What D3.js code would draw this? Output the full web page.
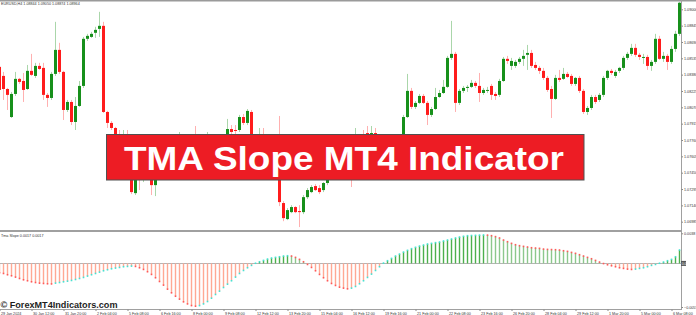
<!DOCTYPE html>
<html>
<head>
<meta charset="utf-8">
<script src="https://cdn.jsdelivr.net/npm/d3@7"></script>
<style>
body {margin:0; background:#fff;}
svg {display:block; font-family:"Liberation Sans", Arial, sans-serif;}
</style>
</head>
<body>
<svg id="chart" width="696" height="315"></svg>
<script>
// EURUSD H4 candles: [open, high, low, close]
var ohlc = [
[1.08454,1.08501,1.08226,1.08235],[1.08368,1.08406,1.08140,1.08244],[1.08244,1.08254,1.08045,1.08188],[1.07978,1.08216,1.07969,1.08197],
[1.08197,1.08406,1.08178,1.08340],[1.08340,1.08349,1.08292,1.08311],[1.08320,1.08396,1.08121,1.08235],[1.08244,1.08472,1.08235,1.08416],
[1.08416,1.08577,1.08368,1.08378],[1.08368,1.08492,1.08349,1.08463],[1.08463,1.08492,1.08425,1.08434],[1.08444,1.08492,1.08140,1.08188],
[1.08188,1.08206,1.08074,1.08159],[1.08159,1.08406,1.08140,1.08387],[1.08387,1.08881,1.08368,1.08615],[1.08615,1.08682,1.08387,1.08406],
[1.08406,1.08416,1.07950,1.08045],[1.08045,1.08140,1.08026,1.08121],[1.08121,1.08140,1.07902,1.07931],[1.07931,1.08168,1.07855,1.08083],
[1.08083,1.08320,1.08074,1.08273],[1.08273,1.08738,1.08254,1.08720],[1.08720,1.08767,1.08700,1.08748],[1.08738,1.08786,1.08729,1.08767],
[1.08777,1.08834,1.08729,1.08805],[1.08814,1.08976,1.08738,1.08843],[1.08843,1.08881,1.08016,1.08026],[1.08026,1.08036,1.07874,1.07922],
[1.07922,1.07940,1.07855,1.07874],[1.07874,1.07884,1.07798,1.07817],[1.07817,1.07855,1.07665,1.07703],[1.07703,1.07855,1.07665,1.07779],
[1.07779,1.07855,1.07570,1.07608],[1.07608,1.07665,1.07247,1.07266],[1.07256,1.07522,1.07238,1.07475],[1.07475,1.07570,1.07285,1.07399],
[1.07399,1.07570,1.07361,1.07522],[1.07522,1.07589,1.07418,1.07456],[1.07456,1.07494,1.07238,1.07332],[1.07332,1.07570,1.07228,1.07551],
[1.07551,1.07665,1.07513,1.07618],[1.07618,1.07665,1.07494,1.07542],[1.07542,1.07712,1.07513,1.07665],[1.07665,1.07760,1.07627,1.07712],
[1.07712,1.07760,1.07608,1.07646],[1.07646,1.07836,1.07627,1.07760],[1.07760,1.07798,1.07665,1.07703],[1.07703,1.07779,1.07674,1.07750],
[1.07750,1.07817,1.07712,1.07808],[1.07798,1.07893,1.07684,1.07741],[1.07741,1.07779,1.07608,1.07665],[1.07665,1.07760,1.07636,1.07722],
[1.07722,1.07836,1.07684,1.07779],[1.07779,1.07798,1.07646,1.07684],[1.07684,1.07760,1.07656,1.07732],[1.07732,1.07770,1.07589,1.07646],
[1.07646,1.07779,1.07618,1.07750],[1.07750,1.07960,1.07732,1.07864],[1.07864,1.07902,1.07817,1.07836],[1.07855,1.07902,1.07808,1.07846],
[1.07855,1.07998,1.07836,1.07978],[1.07978,1.08007,1.07902,1.07922],[1.07922,1.08054,1.07902,1.08036],[1.08026,1.08045,1.07712,1.07760],
[1.07760,1.07798,1.07589,1.07646],[1.07646,1.07874,1.07627,1.07779],[1.07779,1.07874,1.07665,1.07703],[1.07703,1.07798,1.07665,1.07760],
[1.07760,1.07817,1.07570,1.07618],[1.07618,1.07760,1.07589,1.07712],[1.07712,1.07988,1.07133,1.07171],[1.07162,1.07180,1.06990,1.07019],
[1.07010,1.07114,1.07000,1.07095],[1.07076,1.07142,1.07066,1.07124],[1.07124,1.07133,1.07066,1.07076],[1.07086,1.07142,1.06934,1.07076],
[1.07076,1.07238,1.07057,1.07218],[1.07218,1.07304,1.07200,1.07285],[1.07266,1.07332,1.07256,1.07314],[1.07323,1.07342,1.07276,1.07285],
[1.07304,1.07332,1.07247,1.07266],[1.07285,1.07361,1.07266,1.07352],[1.07352,1.07456,1.07332,1.07418],[1.07418,1.07522,1.07399,1.07494],
[1.07494,1.07551,1.07418,1.07456],[1.07456,1.07589,1.07437,1.07570],[1.07570,1.07665,1.07542,1.07646],[1.07646,1.07684,1.07522,1.07570],
[1.07570,1.07665,1.07314,1.07475],[1.07475,1.07874,1.07456,1.07712],[1.07712,1.07817,1.07665,1.07779],[1.07779,1.07855,1.07665,1.07703],
[1.07826,1.07893,1.07665,1.07712],[1.07684,1.07893,1.07665,1.07826],[1.07826,1.07874,1.07665,1.07712],[1.07712,1.07760,1.07570,1.07618],
[1.07618,1.07712,1.07570,1.07684],[1.07684,1.07722,1.07522,1.07570],[1.07570,1.07684,1.07542,1.07665],[1.07665,1.07703,1.07551,1.07608],
[1.07608,1.07760,1.07589,1.07741],[1.07741,1.07998,1.07722,1.07978],[1.07978,1.08387,1.07969,1.08226],[1.08226,1.08254,1.08054,1.08074],
[1.08074,1.08130,1.08054,1.08112],[1.08112,1.08197,1.08102,1.08178],[1.08178,1.08197,1.08102,1.08112],[1.08112,1.08130,1.07902,1.07998],
[1.07998,1.08074,1.07978,1.08054],[1.08054,1.08254,1.08045,1.08168],[1.08168,1.08235,1.08159,1.08206],[1.08206,1.08330,1.08197,1.08264],
[1.08264,1.08558,1.08254,1.08539],[1.08539,1.08890,1.08520,1.08577],[1.08577,1.08596,1.08026,1.08112],[1.08112,1.08244,1.08092,1.08226],
[1.08226,1.08273,1.08206,1.08254],[1.08254,1.08282,1.08216,1.08264],[1.08264,1.08330,1.08254,1.08302],[1.08302,1.08320,1.08254,1.08273],
[1.08273,1.08396,1.08121,1.08206],[1.08206,1.08254,1.08188,1.08235],[1.08226,1.08264,1.08206,1.08235],[1.08273,1.08292,1.08140,1.08188],
[1.08197,1.08216,1.08140,1.08178],[1.08188,1.08340,1.08168,1.08320],[1.08320,1.08548,1.08311,1.08530],[1.08530,1.08558,1.08482,1.08510],
[1.08463,1.08539,1.08425,1.08510],[1.08463,1.08520,1.08444,1.08501],[1.08501,1.08548,1.08482,1.08530],[1.08530,1.08615,1.08463,1.08558],
[1.08568,1.08662,1.08425,1.08586],[1.08586,1.08615,1.08444,1.08463],[1.08472,1.08501,1.08425,1.08444],[1.08444,1.08463,1.08387,1.08416],
[1.08416,1.08444,1.08330,1.08349],[1.08349,1.08368,1.08216,1.08235],[1.08244,1.08273,1.07969,1.08150],[1.08150,1.08378,1.08140,1.08349],
[1.08349,1.08425,1.08311,1.08330],[1.08340,1.08444,1.08330,1.08387],[1.08387,1.08406,1.08349,1.08358],[1.08368,1.08387,1.08273,1.08292],
[1.08292,1.08358,1.08273,1.08349],[1.08349,1.08368,1.08206,1.08226],[1.08226,1.08244,1.08007,1.08026],[1.08026,1.08083,1.07998,1.08064],
[1.08064,1.08188,1.08045,1.08168],[1.08168,1.08188,1.08102,1.08121],[1.08140,1.08206,1.08121,1.08188],[1.08188,1.08368,1.08168,1.08349],
[1.08349,1.08425,1.08330,1.08416],[1.08416,1.08434,1.08378,1.08396],[1.08368,1.08425,1.08349,1.08406],[1.08416,1.08454,1.08396,1.08444],
[1.08444,1.08558,1.08425,1.08539],[1.08539,1.08596,1.08520,1.08577],[1.08577,1.08672,1.08558,1.08634],[1.08634,1.08672,1.08548,1.08568],
[1.08568,1.08586,1.08520,1.08548],[1.08539,1.08577,1.08482,1.08548],[1.08548,1.08568,1.08425,1.08463],[1.08463,1.08520,1.08416,1.08501],
[1.08501,1.08767,1.08482,1.08720],[1.08720,1.08748,1.08520,1.08530],[1.08530,1.08596,1.08501,1.08558],[1.08558,1.08577,1.08425,1.08501],
[1.08501,1.08653,1.08482,1.08624],[1.08624,1.08796,1.08596,1.08767],[1.08767,1.09071,1.08748,1.09062]
];

// TMA slope histogram, one value per candle
var slope = [
-0.00118,-0.00127,-0.00143,-0.00156,-0.00173,-0.00190,-0.00207,-0.00219,-0.00232,-0.00241,
-0.00249,-0.00253,-0.00257,-0.00259,-0.00249,-0.00241,-0.00232,-0.00224,-0.00215,-0.00203,
-0.00190,-0.00177,-0.00160,-0.00143,-0.00127,-0.00110,-0.00093,-0.00080,-0.00068,-0.00059,
-0.00051,-0.00042,-0.00038,-0.00034,-0.00038,-0.00055,-0.00076,-0.00105,-0.00139,-0.00181,
-0.00228,-0.00274,-0.00325,-0.00371,-0.00414,-0.00451,-0.00485,-0.00511,-0.00532,-0.00540,
-0.00532,-0.00511,-0.00481,-0.00439,-0.00392,-0.00350,-0.00304,-0.00262,-0.00219,-0.00173,
-0.00127,-0.00089,-0.00055,-0.00025,0.00002,0.00021,0.00038,0.00055,0.00068,0.00076,
0.00084,0.00093,0.00097,0.00093,0.00076,0.00051,0.00021,-0.00013,-0.00051,-0.00093,
-0.00139,-0.00181,-0.00219,-0.00253,-0.00278,-0.00300,-0.00312,-0.00321,-0.00312,-0.00291,
-0.00257,-0.00219,-0.00177,-0.00135,-0.00089,-0.00042,0.00004,0.00034,0.00063,0.00093,
0.00118,0.00143,0.00165,0.00186,0.00203,0.00219,0.00232,0.00245,0.00253,0.00262,
0.00270,0.00283,0.00295,0.00308,0.00321,0.00333,0.00342,0.00350,0.00352,0.00354,
0.00357,0.00359,0.00357,0.00350,0.00338,0.00321,0.00295,0.00274,0.00253,0.00236,
0.00224,0.00215,0.00207,0.00198,0.00194,0.00190,0.00181,0.00177,0.00175,0.00173,
0.00169,0.00160,0.00152,0.00139,0.00127,0.00110,0.00093,0.00076,0.00059,0.00038,
0.00017,-0.00002,-0.00017,-0.00030,-0.00042,-0.00055,-0.00063,-0.00072,-0.00076,-0.00072,
-0.00063,-0.00055,-0.00042,-0.00025,-0.00013,0.00002,0.00017,0.00034,0.00051,0.00084,
0.00169
];

// one time label every 8 bars
var timeLabels = ["29 Jan 2024","30 Jan 12:00","31 Jan 20:00","2 Feb 04:00","5 Feb 08:00","6 Feb 16:00",
"8 Feb 00:00","9 Feb 08:00","12 Feb 12:00","13 Feb 20:00","15 Feb 04:00","16 Feb 12:00","19 Feb 16:00",
"21 Feb 00:00","22 Feb 08:00","23 Feb 16:00","26 Feb 20:00","28 Feb 04:00","29 Feb 12:00","1 Mar 20:00",
"5 Mar 00:00","6 Mar 08:00"];

var priceTicks = [1.09000,1.08845,1.08690,1.08535,1.08380,1.08225,1.08070,1.07915,1.07760,1.07605,1.07450,1.07295,1.07140,1.06985];
var slopeTicks = [0.0038,-0.0055];

var chartTitle = "EURUSD,H4  1.08844 1.09050 1.08874 1.08964";
var slopeTitle = "Tma Slope 0.0017 0.0017";
var bannerText = "TMA Slope MT4 Indicator";
var watermark = "\u00A9 ForexMT4Indicators.com";

var width = 696, height = 315;
var axisX = 681.5;

var svg = d3.select("#chart");

svg.append("rect").attr("width", width).attr("height", height).attr("fill", "#fff");

var defs = svg.append("defs");
defs.append("clipPath").attr("id", "mainclip")
  .append("rect").attr("x", 0).attr("y", 1).attr("width", 681).attr("height", 229);
defs.append("clipPath").attr("id", "subclip")
  .append("rect").attr("x", 0).attr("y", 232).attr("width", 681).attr("height", 77);

// scales
var x = d3.scaleLinear().domain([0, ohlc.length - 1]).range([-0.5, 679.5]);
var y = d3.scaleLinear().domain([1.09, 1.06985]).range([9.3, 221.7]);
var ys = d3.scaleLinear().domain([0.0038, -0.0055]).range([233.3, 307]);

////// main window candles
var main = svg.append("g").attr("clip-path", "url(#mainclip)");

var candle = main.selectAll("g.candle")
  .data(ohlc)
  .enter()
  .append("g")
  .attr("class", "candle");

candle.append("line")
  .attr("x1", (d, i) => x(i))
  .attr("x2", (d, i) => x(i))
  .attr("y1", d => y(d[1]))
  .attr("y2", d => y(d[2]))
  .attr("stroke", d => d[3] >= d[0] ? "#aad6aa" : "#ffb0b0")
  .attr("stroke-width", 1);

candle.append("rect")
  .attr("x", (d, i) => x(i) - 1.5)
  .attr("width", 3)
  .attr("y", d => y(Math.max(d[0], d[3])))
  .attr("height", d => Math.max(1, Math.abs(y(d[0]) - y(d[3]))))
  .attr("fill", d => d[3] >= d[0] ? "#17901b" : "#ff1c1c");

////// indicator window
var sub = svg.append("g").attr("clip-path", "url(#subclip)");

sub.append("line")
  .attr("x1", 0).attr("x2", 681)
  .attr("y1", Math.round(ys(0)) + 0.5).attr("y2", Math.round(ys(0)) + 0.5)
  .attr("stroke", "#b4b4b4");

function rising(i) { return i > 0 && slope[i] > slope[i - 1]; }

function bar_color(v, i) {
  if (v >= 0) { return rising(i) ? "#4cb04c" : "#8cc88c"; }
  return "#ffa994";
}

sub.selectAll("rect.bar")
  .data(slope)
  .enter()
  .append("rect")
  .attr("class", "bar")
  .attr("x", (d, i) => x(i) - 0.7)
  .attr("width", 1.4)
  .attr("y", d => Math.min(ys(d), ys(0)))
  .attr("height", d => Math.abs(ys(d) - ys(0)))
  .attr("fill", (d, i) => bar_color(d, i));

sub.selectAll("rect.tip")
  .data(slope)
  .enter()
  .append("rect")
  .attr("class", "tip")
  .attr("x", (d, i) => x(i) - 0.8)
  .attr("width", 1.6)
  .attr("y", d => ys(d) - 0.8)
  .attr("height", 1.6)
  .attr("fill", (d, i) => rising(i) ? "#45e3d3" : "#ff5a5a");

////// frames
svg.append("rect").attr("x", 0).attr("y", 0).attr("width", width).attr("height", 1.5).attr("fill", "#9a9a9a");
svg.append("rect").attr("x", 0).attr("y", 230).attr("width", 682).attr("height", 2).attr("fill", "#a0a0a0");
svg.append("rect").attr("x", 0).attr("y", 309).attr("width", 682).attr("height", 1).attr("fill", "#a0a0a0");
svg.append("line").attr("x1", axisX).attr("x2", axisX).attr("y1", 0).attr("y2", 310)
  .attr("stroke", "#a0a0a0");

////// axes
var priceAxis = svg.append("g")
  .attr("transform", "translate(" + axisX + ",0)")
  .call(d3.axisRight(y).tickValues(priceTicks).tickSize(1.5).tickPadding(1).tickFormat(d3.format(".5f")));

var slopeAxis = svg.append("g")
  .attr("transform", "translate(" + axisX + ",0)")
  .call(d3.axisRight(ys).tickValues(slopeTicks).tickSize(1.5).tickPadding(1).tickFormat(d => d3.format(".4f")(d)));

var timeAxis = svg.append("g")
  .attr("transform", "translate(0,309.5)")
  .call(d3.axisBottom(x).tickValues(d3.range(0, ohlc.length, 8)).tickSize(1.5).tickPadding(1)
    .tickFormat((d, i) => timeLabels[i]));

[priceAxis, slopeAxis, timeAxis].forEach(function(a) {
  a.select(".domain").remove();
  a.selectAll("line").attr("stroke", "#888");
  a.selectAll("text")
    .attr("font-family", "Liberation Sans, Arial, sans-serif")
    .attr("font-size", "3.7px")
    .attr("fill", "#333");
});

timeAxis.selectAll("text").attr("text-anchor", "start").attr("dx", "1");

// current value marker on the slope axis
svg.append("rect")
  .attr("x", 681).attr("y", ys(0) - 2.5)
  .attr("width", 5).attr("height", 5)
  .attr("fill", "#555");
svg.append("text")
  .attr("x", 681.8).attr("y", ys(0) + 1.2)
  .attr("font-size", "3.4px").attr("fill", "#fff")
  .text("0.00");

////// texts
svg.append("text")
  .attr("x", 1).attr("y", 5.2)
  .attr("font-size", "3.7px").attr("fill", "#333")
  .text(chartTitle);

svg.append("text")
  .attr("x", 1).attr("y", 236.8)
  .attr("font-size", "3.7px").attr("fill", "#333")
  .text(slopeTitle);

svg.append("text")
  .attr("x", 0.5).attr("y", 308)
  .attr("font-size", "9px").attr("font-weight", "bold")
  .attr("fill", "#1e1e1e")
  .attr("textLength", 117).attr("lengthAdjust", "spacingAndGlyphs")
  .text(watermark);

// banner
var banner = svg.append("g");
banner.append("rect")
  .attr("x", 106.5).attr("y", 134.5)
  .attr("width", 477.5).attr("height", 45.5)
  .attr("fill", "#ed1c24")
  .attr("stroke", "#505050").attr("stroke-width", 1);
banner.append("text")
  .attr("x", 344).attr("y", 170)
  .attr("text-anchor", "middle")
  .attr("font-size", "33.5px").attr("font-weight", "bold")
  .attr("fill", "#fff")
  .attr("textLength", 440).attr("lengthAdjust", "spacingAndGlyphs")
  .text(bannerText);
</script>
</body>
</html>
